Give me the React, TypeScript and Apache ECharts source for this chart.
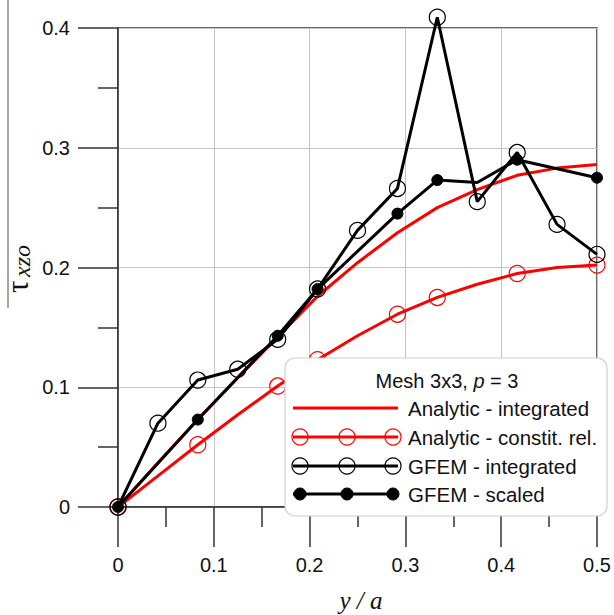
import React, { useEffect, useRef } from "react";
import * as echarts from "echarts";

const xs = [0, 0.0417, 0.0833, 0.125, 0.1667, 0.2083, 0.25, 0.2917, 0.3333, 0.375, 0.4167, 0.4583, 0.5];
const analyticIntegrated = [0, 0.037, 0.073, 0.108, 0.142, 0.176, 0.204, 0.229, 0.25, 0.265, 0.277, 0.283, 0.286];
const analyticConstit = [0, 0.026, 0.052, 0.077, 0.101, 0.123, 0.143, 0.161, 0.175, 0.186, 0.195, 0.2, 0.202];
const constitMarked = [true, false, true, false, true, true, false, true, true, false, true, false, true];
const gfemIntegrated = [0, 0.07, 0.106, 0.115, 0.14, 0.182, 0.231, 0.266, 0.409, 0.255, 0.296, 0.236, 0.211];
const gfemScaledX = [0, 0.0833, 0.1667, 0.2083, 0.2917, 0.3333, 0.375, 0.4167, 0.5];
const gfemScaled = [0, 0.073, 0.143, 0.182, 0.245, 0.273, 0.271, 0.29, 0.275];
const scaledMarked = [true, true, true, true, true, true, false, true, true];
const xTicks = [0, 0.1, 0.2, 0.3, 0.4, 0.5];
const yTicks = [0, 0.1, 0.2, 0.3, 0.4];
const legendTitle = "Mesh 3x3, {i|p} = 3";
const legendNames = ["Analytic - integrated", "Analytic - constit. rel.", "GFEM - integrated", "GFEM - scaled"];

const SANS = '"Liberation Sans", Arial, sans-serif';
const SERIF = '"Liberation Serif", "Times New Roman", serif';
const RED = "#ff0000";
const BLACK = "#000000";

function tickFmt(v: number) {
  const t = [...xTicks, ...yTicks].find((k) => Math.abs(k - v) < 1e-9);
  if (t === undefined) return "";
  return t === 0 ? "0" : t.toFixed(1);
}

export default function App() {
  const ref = useRef<HTMLDivElement>(null);
  useEffect(() => {
    if (!ref.current) return;
    const chart = echarts.init(ref.current, null, { renderer: "svg" });

    const openCircle = (color: string) => ({
      color: "rgba(0,0,0,0)",
      borderColor: color,
      borderWidth: 1.2,
    });

    const legendRows = [408, 437, 466, 494];
    const lx1 = 293, lx2 = 398;
    const mk = [300, 347, 393];
    const legendEls: any[] = [
      {
        type: "rect",
        shape: { x: 285, y: 358, width: 322, height: 158, r: 10 },
        style: { fill: "#fff", stroke: "#cfcfcf", lineWidth: 1.2 },
        z: 100,
      },
      {
        type: "text",
        z: 101,
        style: {
          text: legendTitle,
          x: 447,
          y: 381,
          fill: "#111",
          fontSize: 20,
          fontFamily: SANS,
          align: "center",
          verticalAlign: "middle",
          textAlign: "center",
          textVerticalAlign: "middle",
          rich: { i: { fontStyle: "italic", fontSize: 20, fontFamily: SANS, fill: "#111" } },
        },
      },
    ];
    const rowColors = [RED, RED, BLACK, BLACK];
    legendRows.forEach((yy, i) => {
      legendEls.push({
        type: "line",
        z: 101,
        shape: { x1: lx1, y1: yy, x2: lx2, y2: yy },
        style: { stroke: rowColors[i], lineWidth: 3 },
      });
      if (i > 0) {
        mk.forEach((cx) => {
          legendEls.push({
            type: "circle",
            z: 102,
            shape: { cx, cy: yy, r: i === 3 ? 6 : 8 },
            style:
              i === 3
                ? { fill: BLACK, stroke: BLACK, lineWidth: 1 }
                : { fill: "none", stroke: rowColors[i], lineWidth: 1.2 },
          });
        });
      }
      legendEls.push({
        type: "text",
        z: 101,
        style: {
          text: legendNames[i],
          x: 408,
          y: yy,
          fill: "#111",
          fontSize: 20.5,
          fontFamily: SANS,
          align: "left",
          verticalAlign: "middle",
          textAlign: "left",
          textVerticalAlign: "middle",
        },
      });
    });

    const option: any = {
      animation: false,
      backgroundColor: "#fff",
      grid: {
        left: 118,
        top: 28,
        right: 17,
        bottom: 108,
        show: true,
        borderColor: "#333",
        borderWidth: 1.5,
        backgroundColor: "transparent",
      },
      xAxis: {
        type: "value",
        min: 0,
        max: 0.5,
        interval: 0.1,
        axisLine: { show: true, onZero: false, lineStyle: { color: "#333", width: 1.5 } },
        axisTick: { show: true, length: 40, lineStyle: { color: "#333", width: 1.5 } },
        minorTick: { show: true, splitNumber: 2, length: 20, lineStyle: { color: "#333", width: 1.5 } },
        splitLine: { show: true, lineStyle: { color: "#c4c4c4", width: 1 } },
        axisLabel: { margin: 48, fontSize: 20, fontFamily: SANS, color: "#111", formatter: tickFmt },
      },
      yAxis: {
        type: "value",
        min: 0,
        max: 0.4,
        interval: 0.1,
        axisLine: { show: true, onZero: false, lineStyle: { color: "#333", width: 1.5 } },
        axisTick: { show: true, length: 40, lineStyle: { color: "#333", width: 1.5 } },
        minorTick: { show: true, splitNumber: 2, length: 20, lineStyle: { color: "#333", width: 1.5 } },
        splitLine: { show: true, lineStyle: { color: "#c4c4c4", width: 1 } },
        axisLabel: { margin: 48, fontSize: 20, fontFamily: SANS, color: "#111", formatter: tickFmt },
      },
      series: [
        {
          name: legendNames[0],
          type: "line",
          clip: false,
          showSymbol: false,
          symbol: "none",
          lineStyle: { color: RED, width: 3 },
          data: xs.map((x, i) => [x, analyticIntegrated[i]]),
          z: 2,
        },
        {
          name: legendNames[1],
          type: "line",
          clip: false,
          symbol: "circle",
          symbolSize: 16,
          lineStyle: { color: RED, width: 3 },
          itemStyle: openCircle(RED),
          data: xs.map((x, i) => ({
            value: [x, analyticConstit[i]],
            symbol: constitMarked[i] ? "circle" : "none",
          })),
          z: 3,
        },
        {
          name: legendNames[2],
          type: "line",
          clip: false,
          symbol: "circle",
          symbolSize: 16,
          lineStyle: { color: BLACK, width: 3 },
          itemStyle: openCircle(BLACK),
          data: xs.map((x, i) => [x, gfemIntegrated[i]]),
          z: 4,
        },
        {
          name: legendNames[3],
          type: "line",
          clip: false,
          symbol: "circle",
          symbolSize: 11,
          lineStyle: { color: BLACK, width: 3 },
          itemStyle: { color: BLACK, borderColor: BLACK, borderWidth: 1 },
          data: gfemScaledX.map((x, i) => ({
            value: [x, gfemScaled[i]],
            symbol: scaledMarked[i] ? "circle" : "none",
          })),
          z: 5,
        },
      ],
      graphic: [
        {
          type: "line",
          shape: { x1: 8, y1: 0, x2: 8, y2: 308 },
          style: { stroke: "#8a8a8a", lineWidth: 1.5 },
        },
        {
          type: "group",
          x: 33,
          y: 293,
          rotation: Math.PI / 2,
          children: [
            {
              type: "text",
              style: {
                text: "τ",
                x: 0,
                y: 0,
                fill: "#111",
                fontSize: 31,
                fontFamily: SERIF,
                align: "left",
                verticalAlign: "bottom",
                textAlign: "left",
                textVerticalAlign: "bottom",
              },
            },
            {
              type: "text",
              style: {
                text: "xzo",
                x: 16,
                y: 1,
                fill: "#111",
                fontSize: 24,
                fontStyle: "italic",
                fontFamily: SERIF,
                align: "left",
                verticalAlign: "bottom",
                textAlign: "left",
                textVerticalAlign: "bottom",
              },
            },
          ],
        },
        {
          type: "text",
          style: {
            text: "y / a",
            x: 361,
            y: 600,
            fill: "#111",
            fontSize: 25,
            fontStyle: "italic",
            fontFamily: SERIF,
            align: "center",
            verticalAlign: "middle",
            textAlign: "center",
            textVerticalAlign: "middle",
          },
        },
        ...legendEls,
      ],
    };
    chart.setOption(option);
    return () => chart.dispose();
  }, []);
  return (
    <div
      ref={ref}
      style={{ position: "fixed", left: 0, top: 0, width: 614, height: 615, background: "#fff" }}
    />
  );
}
